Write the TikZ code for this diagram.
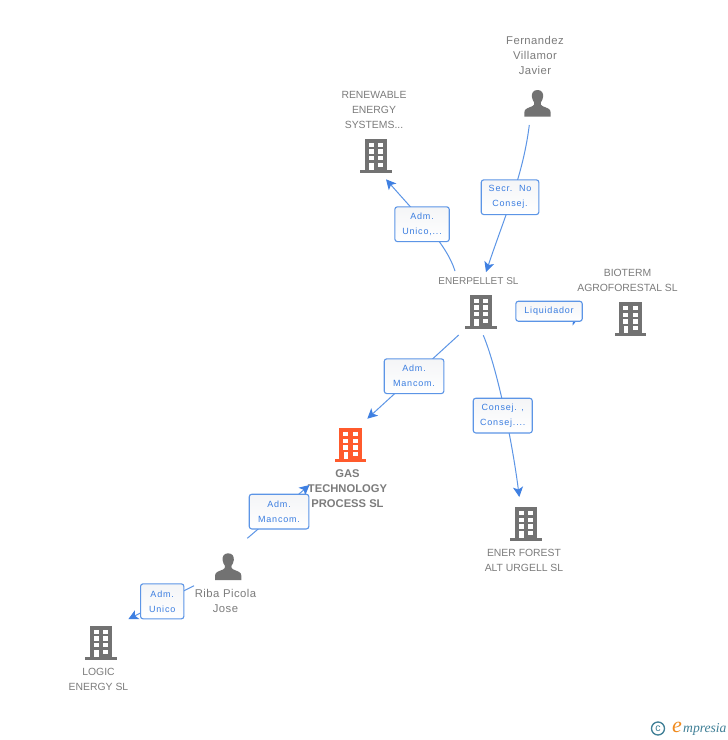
\documentclass[tikz,border=0pt]{standalone}
\usepackage{fontspec}
\setmainfont{Liberation Sans}
\newfontfamily\lblfont[LetterSpace=9]{Liberation Sans}
\newfontfamily\persfont[LetterSpace=4]{Liberation Sans}
\newfontfamily\logofont{Liberation Serif}
\usetikzlibrary{arrows.meta}
\definecolor{iconGrey}{HTML}{727272}
\definecolor{txtGrey}{HTML}{7C7C7C}
\definecolor{lineBlue}{HTML}{5C95E6}
\definecolor{tipBlue}{HTML}{3F80E2}
\definecolor{lblBlue}{HTML}{3A7DE0}
\definecolor{focusOrange}{HTML}{FF5A2C}
\definecolor{logoTeal}{HTML}{3F7F96}
\definecolor{logoOrange}{HTML}{F08A1D}
\definecolor{boxTop}{HTML}{F4F5F7}
\tikzset{
  x=1pt,y=-1pt,
  link/.style={draw=lineBlue,line width=1pt,-{Stealth[length=10pt,width=10pt,inset=2.5pt,color=tipBlue]}},
  rolebox/.style={draw=lineBlue,line width=1.1pt,rounded corners=2.5pt,top color=boxTop,bottom color=white,
    anchor=north west,inner sep=0pt,align=center,font=\lblfont\fontsize{9}{15}\selectfont,text=lblBlue},
  entname/.style={align=center,inner sep=0pt,font=\fontsize{10.4}{15}\selectfont,text=txtGrey},
  persname/.style={entname,font=\persfont\fontsize{11.3}{15}\selectfont},
  focusname/.style={entname,font=\bfseries\fontsize{11.2}{15}\selectfont},
  iconspot/.style={inner sep=0pt,minimum width=32pt,minimum height=34pt,anchor=north west},
  personspot/.style={inner sep=0pt,minimum width=26pt,minimum height=27pt,anchor=north west},
  pics/building/.style={code={
    \fill[#1] (0,0) rectangle (22.3,33);
    \fill[#1] (-4.6,30.6) rectangle (27,33.7);
    \foreach \xx in {3.5,13.3}{
      \foreach \yy in {3.5,10.2,17}{
        \fill[white] (\xx,\yy) rectangle ++(5,4.3);
      }
    }
    \fill[white] (13.3,23.5) rectangle ++(5,4.3);
    \fill[white] (4.3,23.5) rectangle ++(4.2,7.1);
  }},
  pics/person/.style={code={
    \fill[iconGrey] (13.2,0) .. controls (9,0) and (7.2,3) .. (7.6,6.8)
      .. controls (7.8,9.2) and (9,11.2) .. (10,12.6)
      .. controls (10.2,14.5) and (9.6,15.4) .. (8,16.2)
      .. controls (4,18) and (0,18.5) .. (0,22.5) -- (0,26.7) -- (26.4,26.7) -- (26.4,22.5)
      .. controls (26.4,18.5) and (22.4,18) .. (18.4,16.2)
      .. controls (16.8,15.4) and (16.2,14.5) .. (16.4,12.6)
      .. controls (17.4,11.2) and (18.6,9.2) .. (18.8,6.8)
      .. controls (19.2,3) and (17.4,0) .. (13.2,0) -- cycle;
  }},
}
\begin{document}
\begin{tikzpicture}
\useasboundingbox (0,0) rectangle (728,740);
\fill[white] (0,0) rectangle (728,740);

% entities
\pic at (365,139) {building=iconGrey};
\node[iconspot] (renewable) at (360,139) {};
\pic at (470,295) {building=iconGrey};
\node[iconspot] (enerpellet) at (465,295) {};
\pic at (619.3,302.3) {building=iconGrey};
\node[iconspot] (bioterm) at (614.3,302.3) {};
\pic at (339.3,428.3) {building=focusOrange};
\node[iconspot] (gas) at (334.3,428.3) {};
\pic at (515,507.3) {building=iconGrey};
\node[iconspot] (enerforest) at (510,507.3) {};
\pic at (90,626) {building=iconGrey};
\node[iconspot] (logic) at (85,626) {};
\pic at (524.3,90) {person};
\node[personspot] (fernandez) at (524.3,90) {};
\pic at (215,553.3) {person};
\node[personspot] (riba) at (215,553.3) {};

% names
\node[persname] (nfernandez) at (535,55.5) {Fernandez\\Villamor\\Javier};
\node[entname] (nrenewable) at (374,110) {RENEWABLE\\ENERGY\\SYSTEMS...};
\node[entname,font=\fontsize{10}{15}\selectfont] (nenerpellet) at (478.5,281) {ENERPELLET SL};
\node[entname] (nbioterm) at (627.5,280.5) {BIOTERM\\AGROFORESTAL SL};
\node[focusname] (ngas) at (347.5,488.5) {GAS\\TECHNOLOGY\\PROCESS SL};
\node[entname] (nenerforest) at (524,560) {ENER FOREST\\ALT URGELL SL};
\node[persname] (nriba) at (225.5,600.5) {Riba Picola\\Jose};
\node[entname] (nlogic) at (98.5,679.5) {LOGIC\\ENERGY SL};

% connector ends
\coordinate (c1a) at (529.3,125);
\coordinate (c1b) at (486,272);
\coordinate (c2a) at (455,271);
\coordinate (c2b) at (386,179.3);
\coordinate (c3a) at (458.7,335);
\coordinate (c3b) at (367.3,418.7);
\coordinate (c4a) at (483.3,335.3);
\coordinate (c4b) at (519.3,497);
\coordinate (c5a) at (571,320.7);
\coordinate (c5b) at (579.6,316.6);
\coordinate (c6a) at (247.3,538.3);
\coordinate (c6b) at (309.5,485);
\coordinate (c7a) at (194,585.7);
\coordinate (c7b) at (128.3,619.2);

% connectors
\draw[link] (c1a) .. controls (523,175) and (507,210) .. (c1b);
\draw[link] (c2a) .. controls (447,245) and (420,218) .. (c2b);
\draw[link] (c3a) -- (c3b);
\draw[link] (c4a) .. controls (497,368) and (512,440) .. (c4b);
\draw[link] (c5a) -- (c5b);
\draw[link] (c6a) -- (c6b);
\draw[link] (c7a) -- (c7b);

% role labels
\node[rolebox,minimum width=57.6pt,minimum height=34.7pt] (r1) at (480.7,179.3) {Secr.\ \ No\\Consej.};
\node[rolebox,minimum width=54.4pt,minimum height=34.7pt] (r2) at (394.3,206.3) {Adm.\\Unico,...};
\node[rolebox,minimum width=66.4pt,minimum height=20pt] (r3) at (515.3,300.7) {Liquidador};
\node[rolebox,minimum width=59pt,minimum height=34.7pt] (r4) at (472.7,397.7) {Consej. ,\\Consej....};
\node[rolebox,minimum width=59.6pt,minimum height=34.7pt] (r5) at (383.7,358.3) {Adm.\\Mancom.};
\node[rolebox,minimum width=59.6pt,minimum height=34.7pt] (r6) at (248.7,493.7) {Adm.\\Mancom.};
\node[rolebox,minimum width=43.3pt,minimum height=35pt] (r7) at (140,583.3) {Adm.\\Unico};

% logo
\node[circle,draw=logoTeal,line width=1.3pt,inner sep=0pt,minimum size=13pt,text=logoTeal,font=\fontsize{10.5}{10.5}\selectfont] (logoc) at (658,728.5) {c};
\node[inner sep=0pt,text=logoOrange,font=\logofont\itshape\fontsize{22}{22}\selectfont] (logoe) at (677,727.5) {e};
\node[inner sep=0pt,anchor=west,text=logoTeal,font=\logofont\itshape\fontsize{13.6}{13.6}\selectfont] (logot) at (683,729.5) {mpresia};
\end{tikzpicture}
\end{document}
